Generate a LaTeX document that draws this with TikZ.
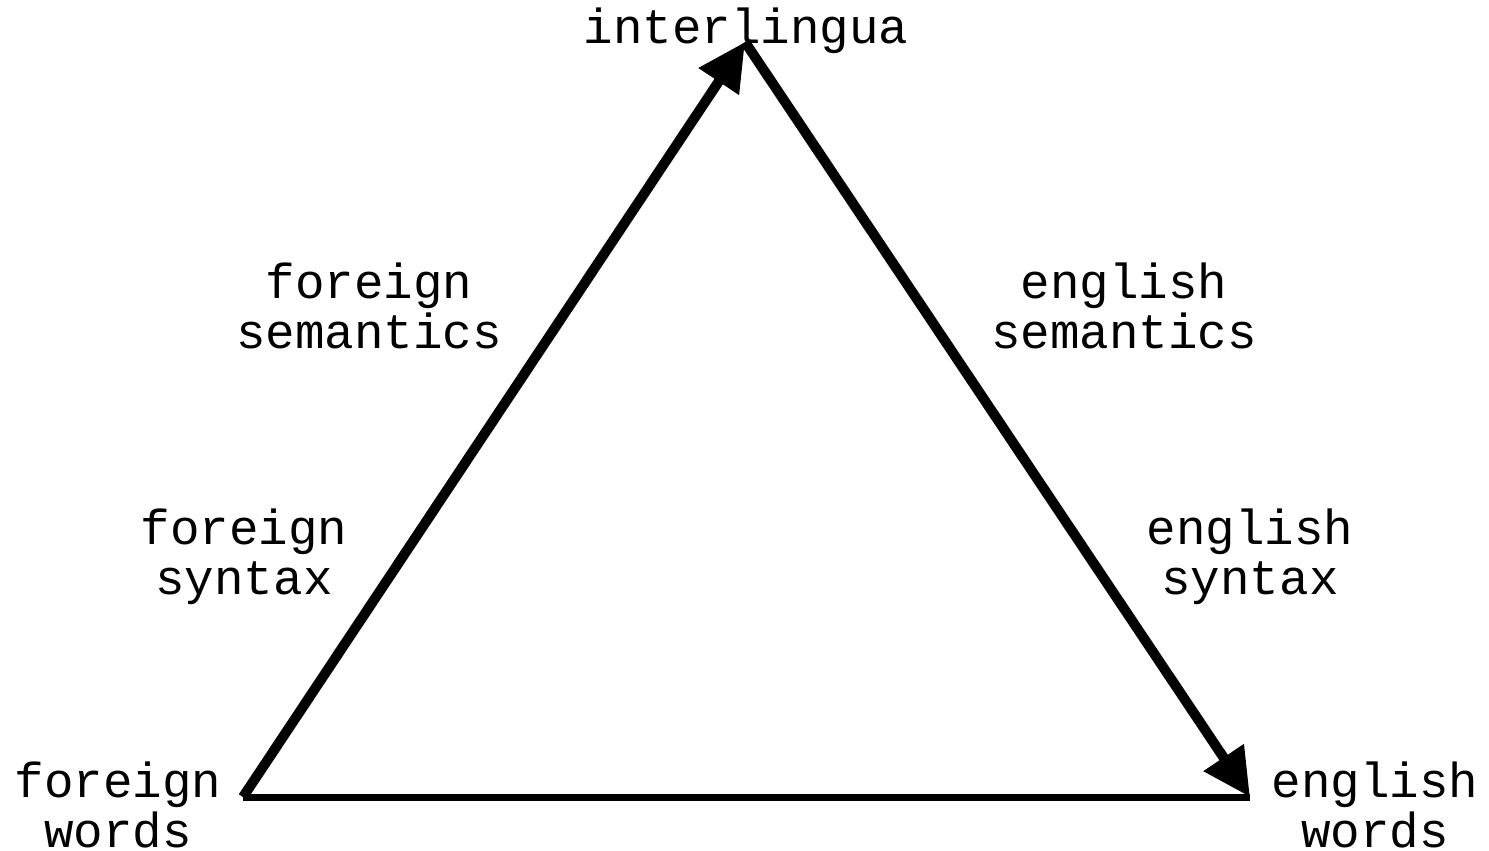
\documentclass[tikz,border=0pt]{standalone}
\usepackage{fontspec}
\setmonofont{Liberation Mono}
\usetikzlibrary{arrows.meta}
\tikzset{
	lbl/.style={font=\ttfamily\fontsize{28}{28.5}\selectfont,align=center,inner sep=0pt},
	side/.style={line width=0.2cm},
}
\begin{document}
\begin{tikzpicture}[x=0.02cm,y=-0.02cm,>={Triangle[length=0.95cm,width=0.92cm]}]
	\useasboundingbox (0,0) rectangle (1489,851);
	\coordinate (top) at (745,42);
	\coordinate (fw) at (243,797);
	\coordinate (ew) at (1250,797);
	\node[lbl] (inter) at (746,31) {interlingua};
	\node[lbl] (fsem) at (369,306) {foreign\\semantics};
	\node[lbl] (esem) at (1124,306) {english\\semantics};
	\node[lbl] (fsyn) at (244,557) {foreign\\syntax};
	\node[lbl] (esyn) at (1250,557) {english\\syntax};
	\node[lbl] (fwords) at (118,805) {foreign\\words};
	\node[lbl] (ewords) at (1375,805) {english\\words};
	\draw[side,->] (fw)--(top);
	\draw[side,->] (top)--(ew);
	\draw[line width=0.14cm] (fw)--(ew);
\end{tikzpicture}
\end{document}
